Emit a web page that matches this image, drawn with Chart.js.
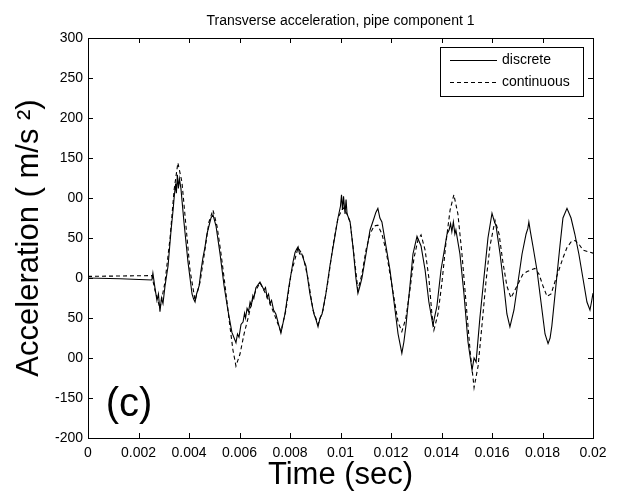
<!DOCTYPE html>
<html>
<head>
<meta charset="utf-8">
<script src="https://cdn.jsdelivr.net/npm/chart.js@4.4.1/dist/chart.umd.min.js"></script>
<style>
  html, body { margin: 0; padding: 0; background: #fff; }
  canvas { display: block; }
</style>
</head>
<body>
<canvas id="accChart" width="621" height="497"></canvas>
<script>
// data (time in seconds, acceleration in m/s^2)
var tDiscrete = [0, 0.00127, 0.00253, 0.00257, 0.00265, 0.00273, 0.00279, 0.00285, 0.00291, 0.00297,
  0.00305, 0.00317, 0.00329, 0.00337, 0.00341, 0.00347, 0.00350, 0.00354, 0.00358, 0.00362,
  0.00368, 0.00380, 0.00396, 0.00412, 0.00418, 0.00424, 0.00430, 0.00440, 0.00447, 0.00455,
  0.00463, 0.00471, 0.00479, 0.00487, 0.00495, 0.00501, 0.00507, 0.00523, 0.00539, 0.00554,
  0.00570, 0.00586, 0.00592, 0.00598, 0.00606, 0.00614, 0.00620, 0.00624, 0.00630, 0.00636,
  0.00642, 0.00647, 0.00653, 0.00657, 0.00665, 0.00681, 0.00689, 0.00697, 0.00703, 0.00709,
  0.00715, 0.00721, 0.00727, 0.00735, 0.00744, 0.00764, 0.00780, 0.00796, 0.00804, 0.00812,
  0.00820, 0.00826, 0.00832, 0.00838, 0.00847, 0.00855, 0.00863, 0.00879, 0.00895, 0.00903,
  0.00911, 0.00919, 0.00927, 0.00942, 0.00958, 0.00974, 0.00990, 0.01000, 0.01004, 0.01008,
  0.01012, 0.01018, 0.01022, 0.01026, 0.01038, 0.01049, 0.01061, 0.01069, 0.01077, 0.01085,
  0.01101, 0.01117, 0.01133, 0.01140, 0.01148, 0.01156, 0.01164, 0.01180, 0.01196, 0.01212,
  0.01228, 0.01243, 0.01251, 0.01259, 0.01275, 0.01287, 0.01303, 0.01319, 0.01335, 0.01350,
  0.01366, 0.01382, 0.01398, 0.01414, 0.01422, 0.01430, 0.01436, 0.01441, 0.01447, 0.01453,
  0.01457, 0.01473, 0.01489, 0.01505, 0.01521, 0.01529, 0.01537, 0.01552, 0.01568, 0.01584,
  0.01600, 0.01608, 0.01616, 0.01632, 0.01647, 0.01659, 0.01671, 0.01687, 0.01703, 0.01719,
  0.01735, 0.01742, 0.01746, 0.01752, 0.01762, 0.01778, 0.01794, 0.01810, 0.01822, 0.01830,
  0.01837, 0.01853, 0.01869, 0.01881, 0.01897, 0.01913, 0.01928, 0.01944, 0.01960, 0.01976,
  0.01988, 0.01994, 0.02];
var aDiscrete = [0, -1, -2.5, 6, -12, -28, -20, -42, -25, -32,
  -10, 15, 60, 85, 100, 118, 106, 129, 112, 124,
  112, 70, 20, -20, -26, -30, -20, -10, 8, 25,
  38, 55, 65, 75, 79, 72, 65, 30, -10, -40,
  -68, -81, -70, -74, -58, -55, -44, -50, -38, -42,
  -30, -34, -22, -25, -12, -5, -10, -15, -12, -24,
  -20, -32, -28, -40, -45, -69, -45, -10, 5, 20,
  32, 36, 39, 30, 30, 22, 15, -20, -45, -52,
  -61, -50, -45, -20, 15, 45, 75, 90, 104, 85,
  102, 80, 98, 80, 70, 40, 0, -19, -10, 0,
  30, 60, 75, 82, 87, 75, 70, 40, 10, -30,
  -70, -94, -80, -60, -10, 30, 52, 40, 10, -30,
  -59, -35, 10, 40, 55, 60, 68, 58, 70, 55,
  60, 30, -20, -80, -115, -100, -105, -50, 0, 50,
  81, 72, 65, 30, -10, -45, -61, -40, -5, 30,
  55, 62, 70, 58, 40, 10, -30, -70, -82, -75,
  -60, -10, 40, 75, 87, 75, 55, 30, 0, -30,
  -40, -30, -19];

var tContinuous = [0, 0.00253, 0.00265, 0.00285, 0.00305, 0.00325, 0.00341, 0.00356, 0.00372, 0.00388,
  0.00404, 0.00424, 0.00444, 0.00463, 0.00479, 0.00495, 0.00511, 0.00527, 0.00543, 0.00558,
  0.00574, 0.00586, 0.00602, 0.00618, 0.00634, 0.00649, 0.00665, 0.00681, 0.00701, 0.00721,
  0.00741, 0.00764, 0.00784, 0.00804, 0.00832, 0.00851, 0.00871, 0.00891, 0.00911, 0.00931,
  0.00950, 0.00970, 0.00990, 0.01010, 0.01026, 0.01038, 0.01053, 0.01069, 0.01085, 0.01101,
  0.01117, 0.01133, 0.01148, 0.01164, 0.01180, 0.01196, 0.01212, 0.01228, 0.01243, 0.01259,
  0.01275, 0.01291, 0.01307, 0.01319, 0.01335, 0.01350, 0.01362, 0.01370, 0.01386, 0.01402,
  0.01418, 0.01434, 0.01449, 0.01465, 0.01481, 0.01497, 0.01513, 0.01529, 0.01545, 0.01560,
  0.01576, 0.01592, 0.01612, 0.01628, 0.01643, 0.01659, 0.01675, 0.01691, 0.01707, 0.01723,
  0.01739, 0.01754, 0.01770, 0.01786, 0.01802, 0.01818, 0.01834, 0.01849, 0.01865, 0.01881,
  0.01897, 0.01913, 0.01929, 0.01945, 0.01960, 0.01980, 0.02];
var aContinuous = [2, 3, -15, -38, -5, 50, 110, 144, 120, 65,
  10, -28, -5, 35, 70, 85, 65, 30, -10, -50,
  -90, -110, -95, -70, -50, -30, -15, -6, -18, -32,
  -48, -67, -40, 5, 38, 28, 0, -40, -58, -40,
  -5, 40, 75, 88, 80, 70, 30, -15, 5, 35,
  55, 65, 66, 55, 35, 5, -25, -55, -67, -50,
  -15, 25, 48, 54, 35, 0, -45, -65, -45, -5,
  45, 85, 104, 80, 30, -30, -90, -137, -110, -60,
  -5, 40, 72, 55, 20, -10, -25, -15, -5, 5,
  8, 10, 12, 5, -10, -23, -20, -5, 10, 25,
  38, 45, 47, 42, 35, 33, 31];

var seriesNames = ['discrete', 'continuous'];
var yTickValues = [300, 250, 200, 150, 100, 50, 0, -50, -100, -150, -200];
var yTickLabels = ['300', '250', '200', '150', '00', '50', '0', '50', '00', '-150', '-200'];

var FONT = "'Liberation Sans', Arial, Helvetica, sans-serif";

function pairs(ts, vs) {
  return ts.map(function (t, i) { return { x: t, y: vs[i] }; });
}

// frame, inward ticks, title, legend and panel letter
var decorations = {
  id: 'decorations',
  afterDraw: function (chart) {
    var ctx = chart.ctx, a = chart.chartArea;
    var xs = chart.scales.x, ys = chart.scales.y;
    ctx.save();
    ctx.strokeStyle = '#000';
    ctx.lineWidth = 1;
    ctx.strokeRect(Math.round(a.left) + 0.5, Math.round(a.top) + 0.5,
      Math.round(a.width), Math.round(a.height));

    var tl = 5;
    ctx.beginPath();
    xs.ticks.forEach(function (t) {
      var px = Math.round(xs.getPixelForValue(t.value)) + 0.5;
      ctx.moveTo(px, a.bottom); ctx.lineTo(px, a.bottom - tl);
      ctx.moveTo(px, a.top); ctx.lineTo(px, a.top + tl);
    });
    ys.ticks.forEach(function (t) {
      var py = Math.round(ys.getPixelForValue(t.value)) + 0.5;
      ctx.moveTo(a.left, py); ctx.lineTo(a.left + tl, py);
      ctx.moveTo(a.right, py); ctx.lineTo(a.right - tl, py);
    });
    ctx.stroke();

    ctx.fillStyle = '#000';
    ctx.textAlign = 'center';
    ctx.textBaseline = 'middle';
    ctx.font = '14px ' + FONT;
    ctx.fillText('Transverse acceleration, pipe component 1', (a.left + a.right) / 2, 21);

    ctx.font = '40px ' + FONT;
    ctx.fillText('(c)', a.left + 41, a.bottom - 33);

    // legend box
    var bx = a.right - 153, by = a.top + 9, bw = 143, bh = 49;
    ctx.fillStyle = '#fff';
    ctx.fillRect(bx, by, bw, bh);
    ctx.strokeRect(Math.round(bx) + 0.5, Math.round(by) + 0.5, bw, bh);
    ctx.font = '14px ' + FONT;
    ctx.textAlign = 'left';
    chart.data.datasets.forEach(function (ds, i) {
      var ry = Math.round(by + 13 + i * 22) + 0.5;
      ctx.setLineDash(ds.borderDash || []);
      ctx.beginPath();
      ctx.moveTo(bx + 10, ry); ctx.lineTo(bx + 57, ry);
      ctx.stroke();
      ctx.setLineDash([]);
      ctx.fillStyle = '#000';
      ctx.fillText(ds.label, bx + 62, ry);
    });
    ctx.restore();
  }
};

var ctx = document.getElementById('accChart').getContext('2d');
var myChart = new Chart(ctx, {
  type: 'line',
  data: {
    datasets: [{
      label: seriesNames[0],
      data: pairs(tDiscrete, aDiscrete),
      borderColor: '#000',
      borderWidth: 1.1,
      pointRadius: 0,
      fill: false
    }, {
      label: seriesNames[1],
      data: pairs(tContinuous, aContinuous),
      borderColor: '#000',
      borderWidth: 1.1,
      borderDash: [4, 3],
      pointRadius: 0,
      fill: false
    }]
  },
  options: {
    responsive: false,
    animation: false,
    devicePixelRatio: 1,
    layout: { padding: { top: 38, right: 28, left: 0, bottom: 0 } },
    plugins: {
      legend: { display: false },
      tooltip: { enabled: false }
    },
    scales: {
      x: {
        type: 'linear',
        min: 0,
        max: 0.02,
        afterBuildTicks: function (s) {
          var out = [];
          for (var i = 0; i <= 10; i++) out.push({ value: +(i * 0.002).toFixed(3) });
          s.ticks = out;
        },
        afterFit: function (s) { s.height = 59; },
        grid: { display: false, drawTicks: false },
        border: { display: false },
        ticks: {
          color: '#000',
          padding: 7,
          maxRotation: 0,
          font: { family: FONT, size: 14 },
          callback: function (v) { return String(+(+v).toFixed(3)); }
        },
        title: {
          display: true,
          text: 'Time (sec)',
          color: '#000',
          font: { family: FONT, size: 31 },
          padding: { top: 0, bottom: 3 }
        }
      },
      y: {
        min: -200,
        max: 300,
        afterBuildTicks: function (s) {
          s.ticks = yTickValues.map(function (v) { return { value: v }; });
        },
        afterFit: function (s) { s.width = 88; },
        grid: { display: false, drawTicks: false },
        border: { display: false },
        ticks: {
          color: '#000',
          padding: 5,
          font: { family: FONT, size: 14 },
          callback: function (v) {
            var k = yTickValues.indexOf(v);
            return k >= 0 ? yTickLabels[k] : '';
          }
        },
        title: {
          display: true,
          text: 'Acceleration ( m/s \u00B2)',
          color: '#000',
          font: { family: FONT, size: 31 },
          padding: { top: 11, bottom: 0 }
        }
      }
    }
  },
  plugins: [decorations]
});
</script>
</body>
</html>
